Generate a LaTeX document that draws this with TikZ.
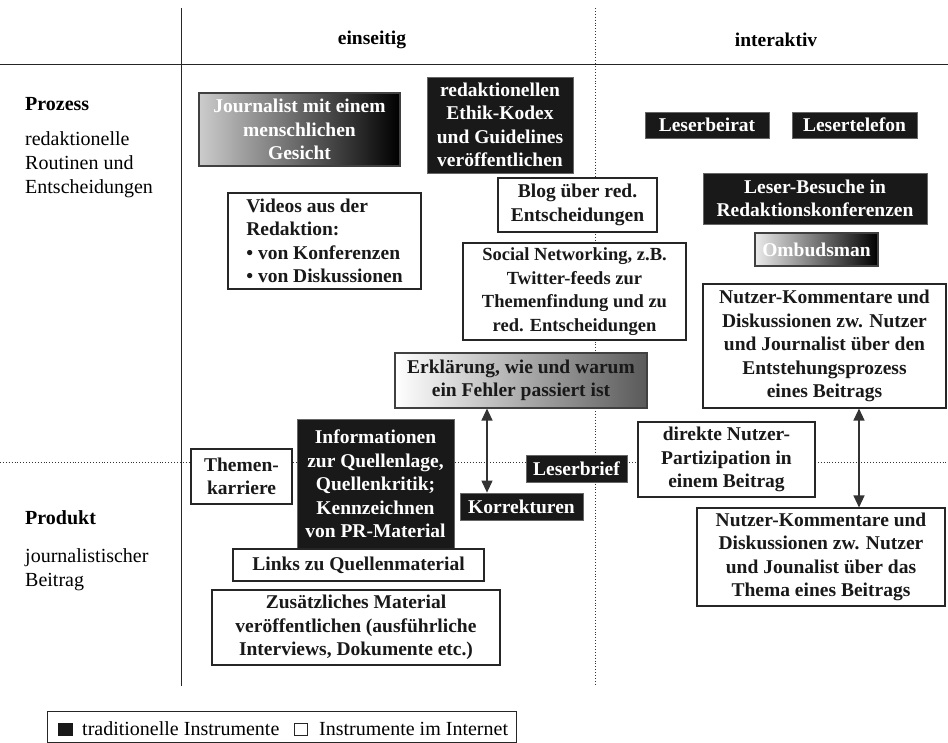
\documentclass[tikz,border=0pt]{standalone}
\usepackage{fontspec}
\setmainfont{Liberation Serif}
\usetikzlibrary{arrows.meta,calc}
\begin{document}
\begin{tikzpicture}[x=1pt,y=-1pt,
  base/.style={inner sep=0pt, align=center, font=\bfseries\fontsize{19.5}{23.5}\selectfont},
  wbox/.style={base, draw=black!85, line width=1.1pt, fill=white, text=black!90},
  bbox/.style={base, draw=black!60, line width=0.8pt, fill=black!90, text=white},
  gdark/.style={base, draw=black!75, line width=1.1pt, left color=black!20, right color=black, text=white},
  glight/.style={base, draw=black!75, line width=1.1pt, left color=white, right color=black!65, text=black!90},
  hdr/.style={inner sep=0pt, font=\bfseries\fontsize{19.5}{23}\selectfont},
  lbl/.style={inner sep=0pt, anchor=west, align=left, font=\fontsize{20}{24}\selectfont},
  lblb/.style={inner sep=0pt, anchor=west, font=\bfseries\fontsize{20}{24}\selectfont},
  solidline/.style={line width=1pt, black!85},
  dotline/.style={line width=0.9pt, black!80, dotted},
  dar/.style={line width=1.2pt, black!80, {Triangle[width=11pt,length=12pt]}-{Triangle[width=11pt,length=12pt]}}
]
\useasboundingbox (0,0) rectangle (948,742);
% frame lines
\coordinate (vtop) at (181,8);
\coordinate (vbot) at (181,686);
\coordinate (htl) at (0,64);
\coordinate (htr) at (948,64);
\coordinate (dtop) at (595,8);
\coordinate (dbot) at (595,686);
\coordinate (dl) at (0,462);
\coordinate (dr) at (948,462);
\draw[solidline] (vtop) -- (vbot);
\draw[solidline] (htl) -- (htr);
\draw[dotline] (dtop) -- (dbot);
\draw[dotline] (dl) -- (dr);
% headers
\node[hdr] (einseitig) at (372,40) {einseitig};
\node[hdr] (interaktiv) at (776,40) {interaktiv};
% left labels
\node[lblb] (prozess) at (25,104) {Prozess};
\node[lbl, anchor=north west] (prozesstxt) at (25,131) {redaktionelle\\Routinen und\\Entscheidungen};
\node[lblb] (produkt) at (25,518) {Produkt};
\node[lbl, anchor=north west] (produkttxt) at (25,548) {journalistischer\\Beitrag};
% boxes
\node[gdark, minimum width=201, minimum height=73] (journ) at (299.5,129.5) {Journalist mit einem\\menschlichen\\Gesicht};
\node[bbox, minimum width=146, minimum height=96] (ethik) at (500,125) {redaktionellen\\Ethik-Kodex\\und Guidelines\\veröffentlichen};
\node[wbox, minimum width=159, minimum height=54] (blog) at (577.5,205) {Blog über red.\\Entscheidungen};
\node[wbox, minimum width=193, minimum height=96, align=left] (videos) at (324.5,241) {Videos aus der\\Redaktion:\\• von Konferenzen\\• von Diskussionen};
\node[wbox, minimum width=223, minimum height=97, font=\bfseries\fontsize{18.5}{23.5}\selectfont] (social) at (574.5,291.5) {Social Networking, z.B.\\Twitter-feeds zur\\Themenfindung und zu\\red. Entscheidungen};
\node[glight, minimum width=252, minimum height=55] (erkl) at (521,380.5) {Erklärung, wie und warum\\ein Fehler passiert ist};
\node[bbox, minimum width=124, minimum height=26] (beirat) at (707,125) {Leserbeirat};
\node[bbox, minimum width=125, minimum height=26] (telefon) at (854.5,125) {Lesertelefon};
\node[bbox, minimum width=224, minimum height=51] (besuche) at (815,198.5) {Leser-Besuche in\\Redaktionskonferenzen};
\node[gdark, left color=black!8, minimum width=123, minimum height=33] (ombud) at (816.5,249.5) {Ombudsman};
\node[wbox, minimum width=243, minimum height=124] (nk1) at (824.5,346) {Nutzer-Kommentare und\\Diskussionen zw. Nutzer\\und Journalist über den\\Entstehungsprozess\\eines Beitrags};
\node[wbox, minimum width=101, minimum height=55] (themen) at (241.5,476.5) {Themen-\\karriere};
\node[bbox, minimum width=157, minimum height=130] (info) at (375.5,484) {Informationen\\zur Quellenlage,\\Quellenkritik;\\Kennzeichnen\\von PR-Material};
\node[bbox, minimum width=123, minimum height=27] (korr) at (521.5,506.5) {Korrekturen};
\node[bbox, minimum width=101, minimum height=27] (brief) at (576.5,468.5) {Leserbrief};
\node[wbox, minimum width=177, minimum height=75] (direkt) at (726.5,459.5) {direkte Nutzer-\\Partizipation in\\einem Beitrag};
\node[wbox, minimum width=248, minimum height=98] (nk2) at (821,557) {Nutzer-Kommentare und\\Diskussionen zw. Nutzer\\und Jounalist über das\\Thema eines Beitrags};
\node[wbox, minimum width=251, minimum height=32] (links) at (358.5,565) {Links zu Quellenmaterial};
\node[wbox, minimum width=288, minimum height=75] (zusatz) at (356,627.5) {Zusätzliches Material\\veröffentlichen (ausführliche\\Interviews, Dokumente etc.)};
% arrows
\coordinate (a1) at (487,0);
\coordinate (a2) at (859,0);
\draw[dar] (erkl.south -| a1) -- (korr.north -| a1);
\draw[dar] (nk1.south -| a2) -- (nk2.north -| a2);
% legend
\node[draw=black!85, line width=0.9pt, minimum width=469, minimum height=31, inner sep=0pt] (legend) at (281.5,726.5) {};
\node[fill=black!90, minimum width=15, minimum height=13, inner sep=0pt] (sqb) at (65,729) {};
\node[lbl] (ltrad) at (82,729) {traditionelle Instrumente};
\node[draw=black!85, line width=0.8pt, fill=white, minimum width=13, minimum height=12, inner sep=0pt] (sqw) at (300.5,729.5) {};
\node[lbl] (lint) at (319,729) {Instrumente im Internet};
\end{tikzpicture}
\end{document}
